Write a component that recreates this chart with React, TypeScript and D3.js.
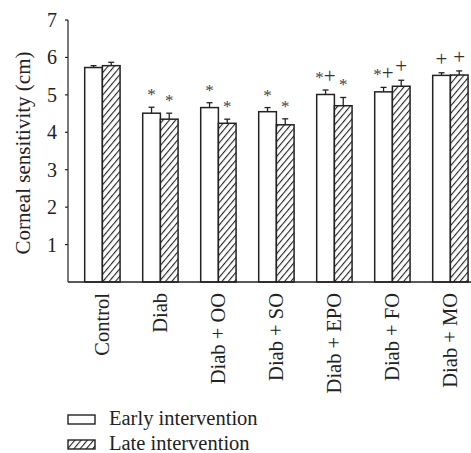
import React from "react";
import * as d3 from "d3";

const categories = ["Control", "Diab", "Diab + OO", "Diab + SO", "Diab + EPO", "Diab + FO", "Diab + MO"];
const earlyValues = [5.73, 4.51, 4.66, 4.55, 5.01, 5.08, 5.52];
const lateValues = [5.78, 4.35, 4.24, 4.2, 4.71, 5.23, 5.53];
const earlyErrors = [0.05, 0.16, 0.13, 0.11, 0.12, 0.12, 0.07];
const lateErrors = [0.09, 0.16, 0.11, 0.16, 0.22, 0.16, 0.11];
const earlyMarks = ["", "*", "*", "*", "*+", "*+", "+"];
const lateMarks = ["", "*", "*", "*", "*", "+", "+"];
const yTicks = [1, 2, 3, 4, 5, 6, 7];
const seriesNames = ["Early intervention", "Late intervention"];

const W = 471;
const H = 453;
const FONT = "'Liberation Serif', 'Times New Roman', serif";

function Marks({ text, x, y }: { text: string; x: number; y: number }) {
  if (!text) return null;
  return (
    <text x={x} y={y} textAnchor="middle" fontFamily={FONT} fill="#333">
      {text.split("").map((ch, i) =>
        ch === "*" ? (
          <tspan key={i} fontSize={17} fill="#444">*</tspan>
        ) : (
          <tspan key={i} fontSize={21}>{ch}</tspan>
        )
      )}
    </text>
  );
}

export default function App() {
  const axisX = 68;
  const y = d3.scaleLinear().domain([0, 7]).range([282, 20]);
  const step = 58;
  const pi = 0.39;
  const po = (84.7 - axisX) / step;
  const x = d3
    .scaleBand<string>()
    .domain(categories)
    .range([axisX, axisX + step * (categories.length - pi + 2 * po)])
    .paddingInner(pi)
    .paddingOuter(po);
  const bw = x.bandwidth() / 2;
  const stroke = "#222";

  const bar = (cat: string, i: number, late: boolean) => {
    const v = late ? lateValues[i] : earlyValues[i];
    const e = late ? lateErrors[i] : earlyErrors[i];
    const m = late ? lateMarks[i] : earlyMarks[i];
    const x0 = (x(cat) as number) + (late ? bw : 0);
    const cx = x0 + bw / 2;
    const top = y(v);
    const cap = y(v + e);
    return (
      <g key={cat + late}>
        <line x1={cx} x2={cx} y1={top} y2={cap} stroke={stroke} strokeWidth={1.3} />
        <line x1={cx - 3} x2={cx + 3} y1={cap} y2={cap} stroke={stroke} strokeWidth={1.3} />
        <rect
          x={x0}
          y={top}
          width={bw}
          height={y(0) - top}
          fill={late ? "url(#hatch)" : "#fff"}
          stroke={stroke}
          strokeWidth={1.5}
        />
        <Marks text={m} x={cx} y={cap - 7} />
      </g>
    );
  };

  return (
    <svg
      width={W}
      height={H}
      style={{ position: "absolute", left: 0, top: 0, background: "#fff" }}
    >
      <defs>
        <pattern id="hatch" patternUnits="userSpaceOnUse" width={4.8} height={4.8} patternTransform="rotate(40)">
          <rect width={4.8} height={4.8} fill="#fff" />
          <line x1={0} y1={0} x2={0} y2={4.8} stroke="#222" strokeWidth={2.2} />
        </pattern>
      </defs>
      {/* y axis */}
      <line x1={axisX} x2={axisX} y1={y(7)} y2={y(0)} stroke={stroke} strokeWidth={1.2} />
      {yTicks.map((t) => (
        <g key={t}>
          <line x1={axisX - 3} x2={axisX} y1={y(t)} y2={y(t)} stroke={stroke} strokeWidth={1.2} />
          <text x={axisX - 11} y={y(t)} dy="0.35em" textAnchor="end" fontFamily={FONT} fontSize={20} fill="#222">
            {t}
          </text>
        </g>
      ))}
      <text
        transform={`translate(30, 153) rotate(-90)`}
        textAnchor="middle"
        fontFamily={FONT}
        fontSize={21}
        fill="#222"
      >
        Corneal sensitivity (cm)
      </text>
      {categories.map((c, i) => (
        <g key={c}>
          {bar(c, i, false)}
          {bar(c, i, true)}
        </g>
      ))}
      <line x1={axisX} x2={W} y1={y(0)} y2={y(0)} stroke={stroke} strokeWidth={1.6} />
      {categories.map((c) => (
        <text
          key={c}
          transform={`translate(${(x(c) as number) + x.bandwidth() / 2 + 7}, 293) rotate(-90)`}
          textAnchor="end"
          fontFamily={FONT}
          fontSize={20.5}
          fill="#222"
        >
          {c}
        </text>
      ))}
      {/* legend */}
      {seriesNames.map((s, i) => (
        <g key={s} transform={`translate(68, ${415 + i * 25})`}>
          <rect x={0} y={0} width={27} height={9} fill={i === 0 ? "#fff" : "url(#hatch)"} stroke={stroke} strokeWidth={1.4} />
          <text x={41} y={9.5} fontFamily={FONT} fontSize={20.5} fill="#222">
            {s}
          </text>
        </g>
      ))}
    </svg>
  );
}
